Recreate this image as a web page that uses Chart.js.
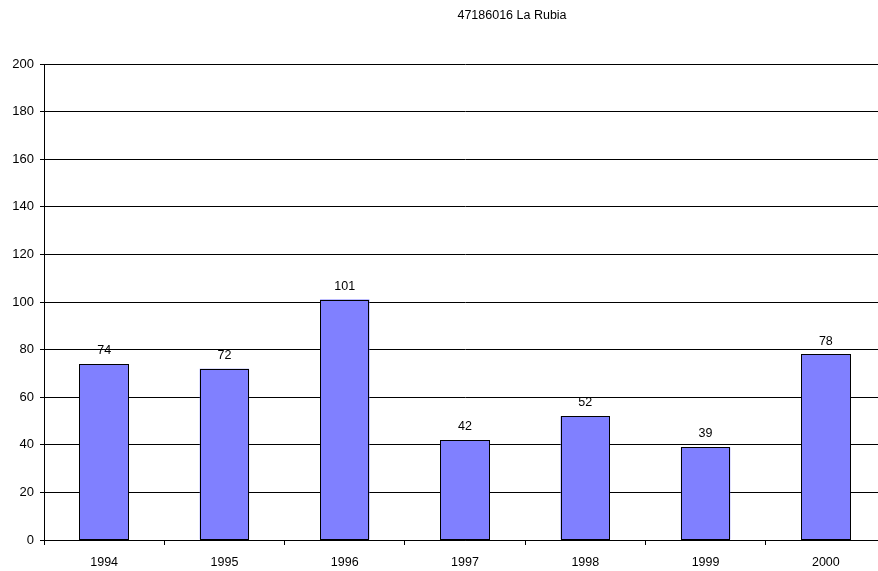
<!DOCTYPE html>
<html>
<head>
<meta charset="utf-8">
<script src="https://cdn.jsdelivr.net/npm/chart.js@4"></script>
<style>
  html, body { margin: 0; padding: 0; background: #fff; overflow: hidden; }
  #myChart { display: block; }
</style>
</head>
<body>
<!-- plot runs past the right edge of the window in the original, so the canvas is a bit wider -->
<canvas id="myChart" width="886" height="571"></canvas>
<script>
const title = '47186016 La Rubia'
const years = ['1994', '1995', '1996', '1997', '1998', '1999', '2000']
const counts = [74, 72, 101, 42, 52, 39, 78]
const ymax = 200
const ystep = 20

const fontFam = '"Liberation Sans", Arial, sans-serif'

// title sits off centre in the original, so draw it by hand
const titlePlugin = {
    id: 'titleText',
    afterDraw(chart) {
        const c = chart.ctx
        c.save()
        c.font = '12.5px ' + fontFam
        c.fillStyle = '#000'
        c.textAlign = 'center'
        c.textBaseline = 'middle'
        c.fillText(title, 512, 16)
        c.restore()
    }
}

// crisp 1px outline + value on top of every bar
const valueLabels = {
    id: 'valueLabels',
    afterDatasetsDraw(chart) {
        const c = chart.ctx
        const meta = chart.getDatasetMeta(0)
        c.save()
        c.strokeStyle = '#000'
        c.lineWidth = 1
        c.font = '12.5px ' + fontFam
        c.fillStyle = '#000'
        c.textAlign = 'center'
        c.textBaseline = 'bottom'
        meta.data.forEach((bar, i) => {
            const p = bar.getProps(['x', 'y', 'width', 'base'], true)
            const l = Math.round(p.x - p.width / 2) + 0.5
            const r = Math.round(p.x + p.width / 2) - 0.5
            const t = Math.round(p.y) + 0.5
            const b = Math.round(p.base) - 0.5
            c.strokeRect(l, t, r - l, b - t)
            c.fillText(counts[i], p.x, p.y - 7)
        })
        c.restore()
    }
}

const ctx = document.getElementById('myChart');
const myChart = new Chart(ctx, {
    type: 'bar',
    data: {
        labels: years,
        datasets: [{
            data: counts,
            backgroundColor: '#8080ff',
            borderWidth: 0,
            categoryPercentage: 1,
            barPercentage: 0.41
        }]
    },
    options: {
        responsive: false,
        animation: false,
        layout: {
            padding: { top: 64, right: 0, left: 0, bottom: 0 }
        },
        plugins: {
            legend: { display: false },
            tooltip: { enabled: false }
        },
        scales: {
            y: {
                min: 0,
                max: ymax,
                afterFit(axis) { axis.width = 44 },
                border: { color: '#000', width: 1 },
                grid: { color: '#000', lineWidth: 1, tickLength: 4, tickColor: '#000' },
                ticks: {
                    stepSize: ystep,
                    padding: 6,
                    color: '#000',
                    font: { family: fontFam, size: 13 }
                }
            },
            x: {
                afterFit(axis) { axis.height = 31 },
                border: { color: '#000', width: 1 },
                grid: {
                    offset: true,
                    drawOnChartArea: false,
                    tickLength: 5,
                    tickColor: '#000'
                },
                ticks: {
                    padding: 10,
                    color: '#000',
                    font: { family: fontFam, size: 12.5 }
                }
            }
        }
    },
    plugins: [titlePlugin, valueLabels]
});
</script>
</body>
</html>
